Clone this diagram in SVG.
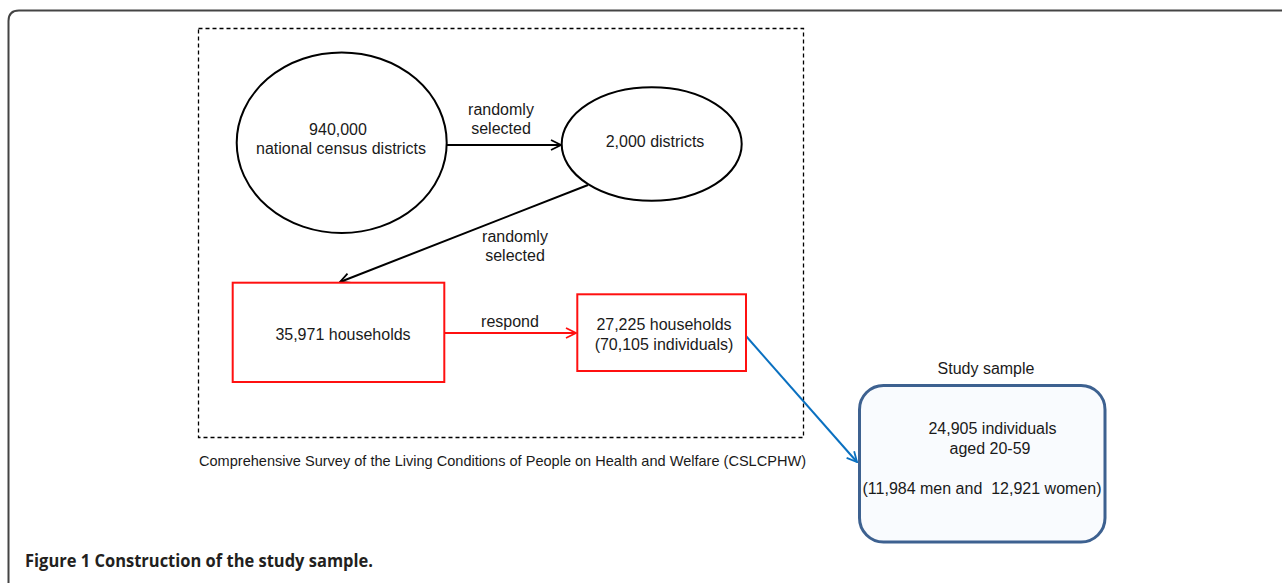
<svg xmlns="http://www.w3.org/2000/svg" width="1282" height="583" viewBox="0 0 1282 583">
<style>
  text { font-family: "Liberation Sans", Arial, sans-serif; font-size: 16px; fill: #1a1a1a; }
  .c { text-anchor: middle; }
  .pre { white-space: pre; }
  .shape { fill: #ffffff; stroke: #000000; stroke-width: 2; }
  .red { fill: #ffffff; stroke: #ff1010; stroke-width: 2; }
  .conn { fill: none; stroke-width: 2; }
  .cap { font-family: "Open Sans", "Liberation Sans", sans-serif; font-weight: 700; font-size: 17.5px; fill: #231f20; }
</style>
<defs>
  <marker id="arrK" viewBox="0 0 12 12" refX="11" refY="6" markerWidth="12" markerHeight="12" markerUnits="userSpaceOnUse" orient="auto">
    <path d="M1,1 L11,6 L1,11" fill="none" stroke="#000" stroke-width="1.8"/>
  </marker>
  <marker id="arrR" viewBox="0 0 12 12" refX="11" refY="6" markerWidth="12" markerHeight="12" markerUnits="userSpaceOnUse" orient="auto">
    <path d="M1,1 L11,6 L1,11" fill="none" stroke="#ff1010" stroke-width="1.8"/>
  </marker>
  <marker id="arrB" viewBox="0 0 12 12" refX="11" refY="6" markerWidth="12" markerHeight="12" markerUnits="userSpaceOnUse" orient="auto">
    <path d="M1,1 L11,6 L1,11" fill="none" stroke="#0a70c0" stroke-width="1.8"/>
  </marker>
</defs>
<rect width="1282" height="583" fill="#ffffff"/>
<path id="frame" d="M8.5,583 V21 Q8.5,10.5 19,10.5 H1282" fill="none" stroke="#444" stroke-width="2"/>

<g id="survey-box">
  <rect x="198.5" y="28.5" width="605" height="409" fill="none" stroke="#000" stroke-width="1.3" stroke-dasharray="4,3"/>
  <text x="199" y="466" textLength="607" lengthAdjust="spacingAndGlyphs" style="font-size:14.5px">Comprehensive Survey of the Living Conditions of People on Health and Welfare (CSLCPHW)</text>
</g>

<g id="connectors">
  <line class="conn" x1="447" y1="145" x2="561" y2="145" stroke="#000" marker-end="url(#arrK)"/>
  <line class="conn" x1="588" y1="185" x2="340" y2="282" stroke="#000" marker-end="url(#arrK)"/>
  <line class="conn" x1="445" y1="333" x2="576" y2="333" stroke="#ff1010" marker-end="url(#arrR)"/>
  <line class="conn" x1="746" y1="336" x2="857" y2="462" stroke="#0a70c0" marker-end="url(#arrB)"/>
  <text class="c" x="501" y="115">randomly</text>
  <text class="c" x="501" y="134">selected</text>
  <text class="c" x="515" y="242">randomly</text>
  <text class="c" x="515" y="261">selected</text>
  <text class="c" x="510" y="327">respond</text>
</g>

<g id="node-census">
  <ellipse class="shape" cx="341.7" cy="142.7" rx="105" ry="90.3"/>
  <text class="c" x="338" y="135">940,000</text>
  <text class="c" x="341" y="154">national census districts</text>
</g>

<g id="node-districts">
  <ellipse class="shape" cx="651.7" cy="144" rx="90" ry="56.7"/>
  <text class="c" x="655" y="147">2,000 districts</text>
</g>

<g id="node-households">
  <rect class="red" x="232.7" y="282.7" width="211.6" height="99.3"/>
  <text class="c" x="343" y="339.5">35,971 households</text>
</g>

<g id="node-responded">
  <rect class="red" x="577.3" y="294.3" width="168.7" height="76.7"/>
  <text class="c" x="664" y="329.5">27,225 households</text>
  <text class="c" x="664" y="349.5">(70,105 individuals)</text>
</g>

<g id="node-study">
  <text class="c" x="986" y="374">Study sample</text>
  <rect x="859.5" y="385.5" width="245.5" height="156.5" rx="24" ry="24" fill="#f9fbfe" stroke="#3d6190" stroke-width="3"/>
  <text class="c" x="992.5" y="434">24,905 individuals</text>
  <text class="c" x="990" y="454">aged 20-59</text>
  <text class="c pre" x="982" y="494">(11,984 men and  12,921 women)</text>
</g>

<text id="caption" class="cap" x="25" y="567" textLength="348" lengthAdjust="spacingAndGlyphs">Figure 1 Construction of the study sample.</text>
</svg>
